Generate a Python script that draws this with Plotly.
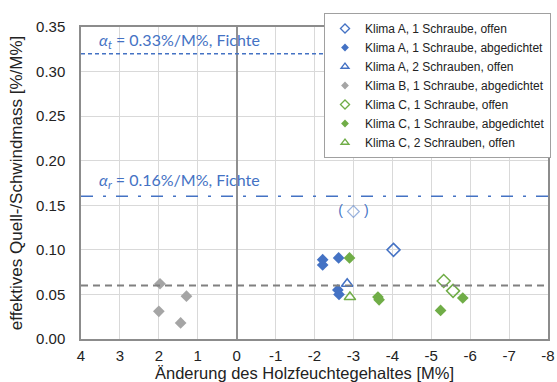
import plotly.graph_objects as go

BLUE = "#4472C4"
GREEN = "#70AD47"
GRAY = "#A5A5A5"

# Data series
a1o_x = [-4.03]
a1o_y = [0.100]
a1o_paren_x = [-3.0]
a1o_paren_y = [0.143]

a1a_x = [-2.21, -2.21, -2.62, -2.60, -2.63]
a1a_y = [0.089, 0.083, 0.091, 0.055, 0.050]

a2o_x = [-2.84]
a2o_y = [0.062]

b1a_x = [1.97, 2.0, 1.29, 1.44]
b1a_y = [0.062, 0.031, 0.048, 0.018]

c1o_x = [-5.32, -5.56]
c1o_y = [0.065, 0.054]

c1a_x = [-2.9, -3.63, -3.66, -5.24, -5.81]
c1a_y = [0.091, 0.047, 0.044, 0.032, 0.046]

c2o_x = [-2.91]
c2o_y = [0.047]

alpha_t_val = 0.32
alpha_r_val = 0.16
ref_val = 0.06

x_ticks = [4, 3, 2, 1, 0, -1, -2, -3, -4, -5, -6, -7, -8]
y_ticks = [0.00, 0.05, 0.10, 0.15, 0.20, 0.25, 0.30, 0.35]

fig = go.Figure()

def add(x, y, name, symbol, color, size):
    lw = 1.5 if "open" in symbol else 0
    # data trace
    fig.add_trace(go.Scatter(
        x=x, y=y, mode="markers", name=name, showlegend=False, legendgroup=name,
        marker=dict(symbol=symbol, color=color, size=size,
                    line=dict(color=color, width=lw))))
    # legend-only entry with smaller symbol
    fig.add_trace(go.Scatter(
        x=[None], y=[None], mode="markers", name=name, showlegend=True, legendgroup=name,
        marker=dict(symbol=symbol, color=color, size=size - 3,
                    line=dict(color=color, width=1.3 if lw else 0))))

add(a1o_x, a1o_y, "Klima A, 1 Schraube, offen", "diamond-open", BLUE, 10)
add(a1a_x, a1a_y, "Klima A, 1 Schraube, abgedichtet", "diamond", BLUE, 9)
add(a2o_x, a2o_y, "Klima A, 2 Schrauben, offen", "triangle-up-open", BLUE, 10)
add(b1a_x, b1a_y, "Klima B, 1 Schraube, abgedichtet", "diamond", GRAY, 9)
add(c1o_x, c1o_y, "Klima C, 1 Schraube, offen", "diamond-open", GREEN, 10)
add(c1a_x, c1a_y, "Klima C, 1 Schraube, abgedichtet", "diamond", GREEN, 9)
add(c2o_x, c2o_y, "Klima C, 2 Schrauben, offen", "triangle-up-open", GREEN, 10)

# parenthesised outlier
fig.add_trace(go.Scatter(
    x=a1o_paren_x, y=a1o_paren_y, mode="markers+text", showlegend=False,
    text=["(\u2003\u2002)"], textposition="middle center",
    textfont=dict(color=BLUE, size=14, family="Liberation Sans"),
    marker=dict(symbol="diamond-open", color="rgba(68,114,196,0.55)", size=9,
                line=dict(color="rgba(68,114,196,0.55)", width=1.2)),
))

# reference lines
fig.add_hline(y=alpha_t_val, line=dict(color=BLUE, width=1.5, dash="4px,3px"))
fig.add_hline(y=alpha_r_val, line=dict(color=BLUE, width=1.5, dash="12px,10px,3px,10px"))
fig.add_hline(y=ref_val, line=dict(color="#808080", width=2, dash="7px,5px"))

fig.add_annotation(x=3.6, y=alpha_t_val, xref="x", yref="y", yshift=13,
                   text="<i>α</i><sub><i>t</i></sub> = 0.33%/M%, Fichte", showarrow=False,
                   xanchor="left", font=dict(color=BLUE, size=16, family="Lato"))
fig.add_annotation(x=3.6, y=alpha_r_val, xref="x", yref="y", yshift=16,
                   text="<i>α</i><sub><i>r</i></sub> = 0.16%/M%, Fichte", showarrow=False,
                   xanchor="left", font=dict(color=BLUE, size=16, family="Lato"))

# x-axis title placed as annotation at the bottom edge
fig.add_annotation(x=(304 - 81) / 467, y=-44 / 312, xref="paper", yref="paper",
                   text="Änderung des Holzfeuchtegehaltes [M%]", showarrow=False,
                   xanchor="center", yanchor="bottom", borderpad=0,
                   font=dict(size=16.5, family="Liberation Sans", color="#222222"))

fig.update_layout(
    width=557, height=382,
    margin=dict(l=81, r=9, t=27, b=43, autoexpand=False),
    paper_bgcolor="white", plot_bgcolor="white",
    font=dict(family="Liberation Sans", color="#222222", size=15),
    legend=dict(xref="container", yref="container",
                x=551 / 557, y=1 - 13 / 382, xanchor="right", yanchor="top",
                bgcolor="white", bordercolor="#A0A0A0", borderwidth=1,
                font=dict(size=12, family="Liberation Sans"),
                tracegroupgap=0, itemwidth=30, itemclick=False),
)
fig.update_xaxes(
    range=[4, -8], tickvals=x_ticks, ticktext=[str(v) for v in x_ticks],
    showgrid=True, gridcolor="#D9D9D9", gridwidth=1,
    zeroline=True, zerolinecolor="#909090", zerolinewidth=1.5,
    showline=True, linecolor="#8C8C8C", linewidth=1.5, mirror=True,
    ticks="", ticklabelstandoff=2, tickfont=dict(size=15),
)
fig.update_yaxes(
    range=[0, 0.35], tickvals=y_ticks, ticktext=[f"{v:.2f}" for v in y_ticks],
    showgrid=True, gridcolor="#D9D9D9", gridwidth=1, zeroline=False,
    showline=True, linecolor="#8C8C8C", linewidth=1.5, mirror=True,
    ticks="", ticklabelstandoff=11, tickfont=dict(size=15),
    title=dict(text="effektives Quell-/Schwindmass [%/M%]", font=dict(size=17), standoff=9),
)

fig.write_html("out.html")
